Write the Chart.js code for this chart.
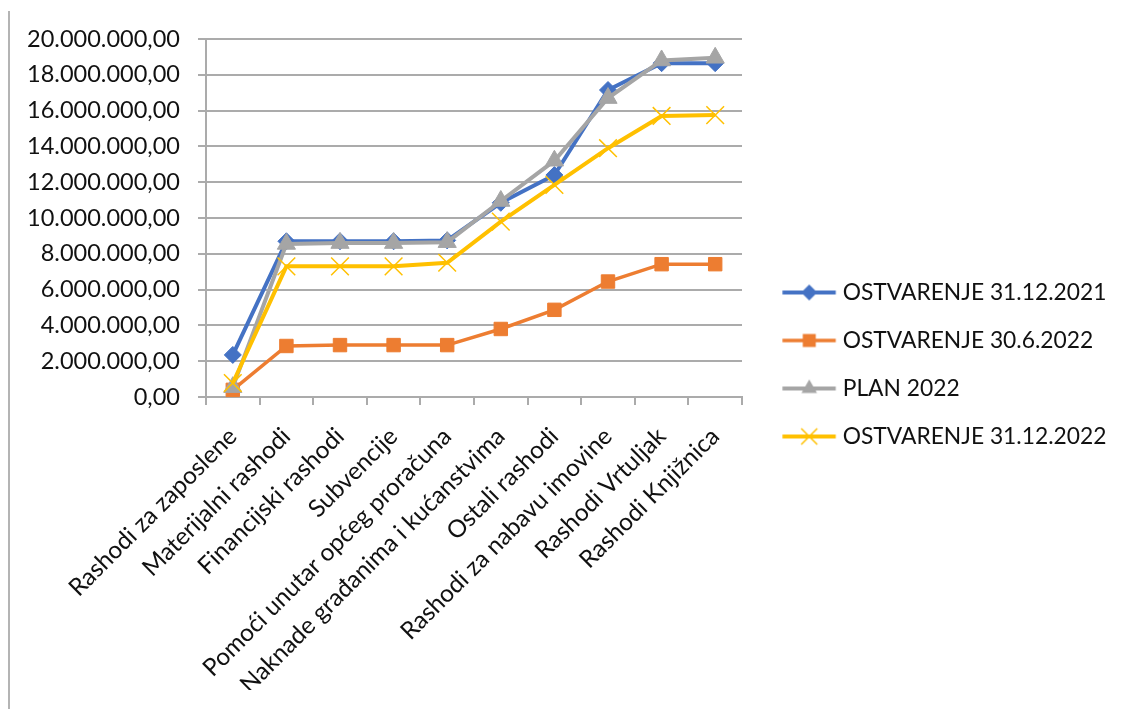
<!DOCTYPE html>
<html>
<head>
<meta charset="utf-8">
<script src="https://cdn.jsdelivr.net/npm/chart.js@4.4.1/dist/chart.umd.min.js"></script>
<style>
html,body{margin:0;padding:0;background:#fff;}
#wrap{position:relative;width:1124px;height:709px;}
canvas{display:block;}
</style>
</head>
<body>
<div id="wrap"><canvas id="c" width="1124" height="709"></canvas></div>
<script>
const categories = [
  'Rashodi za zaposlene',
  'Materijalni rashodi',
  'Financijski rashodi',
  'Subvencije',
  'Pomoći unutar općeg proračuna',
  'Naknade građanima i kućanstvima',
  'Ostali rashodi',
  'Rashodi za nabavu imovine',
  'Rashodi Vrtuljak',
  'Rashodi Knjižnica'
];
const seriesNames = ['OSTVARENJE 31.12.2021', 'OSTVARENJE 30.6.2022', 'PLAN 2022', 'OSTVARENJE 31.12.2022'];
const ostvarenje2021 = [2350000, 8700000, 8700000, 8700000, 8750000, 10850000, 12400000, 17150000, 18650000, 18650000];
const ostvarenje30062022 = [400000, 2850000, 2900000, 2900000, 2900000, 3800000, 4870000, 6450000, 7420000, 7420000];
const plan2022 = [550000, 8550000, 8600000, 8600000, 8650000, 10950000, 13200000, 16700000, 18800000, 18950000];
const ostvarenje2022 = [780000, 7300000, 7300000, 7300000, 7500000, 9800000, 11850000, 13900000, 15700000, 15750000];
const yTickLabels = ['0,00', '2.000.000,00', '4.000.000,00', '6.000.000,00', '8.000.000,00', '10.000.000,00',
  '12.000.000,00', '14.000.000,00', '16.000.000,00', '18.000.000,00', '20.000.000,00'];

const FAM = 'Lato';
const GRID = '#ababab';
const TEXT = '#111111';
const colors = ['#4472C4', '#ED7D31', '#A5A5A5', '#FFC000'];

function measure(text, size) {
  const c = document.createElement('canvas').getContext('2d');
  c.font = size + 'px ' + FAM;
  return c.measureText(text).width;
}

function makeLegendImage(idx, w, h, lineL, lineR, markX) {
  const cv = document.createElement('canvas');
  cv.width = Math.ceil(w); cv.height = h;
  const ctx = cv.getContext('2d');
  const my = h / 2;
  const col = colors[idx];
  ctx.strokeStyle = col; ctx.fillStyle = col;
  ctx.lineWidth = idx === 1 ? 3.5 : 4;
  ctx.beginPath(); ctx.moveTo(lineL, my); ctx.lineTo(lineR, my); ctx.stroke();
  ctx.lineWidth = 1;
  ctx.beginPath();
  if (idx === 0) {
    const r = 8;
    ctx.moveTo(markX - r, my); ctx.lineTo(markX, my - r); ctx.lineTo(markX + r, my); ctx.lineTo(markX, my + r);
    ctx.closePath(); ctx.fill();
  } else if (idx === 1) {
    ctx.rect(markX - 6.5, my - 6.5, 13, 13); ctx.fill();
  } else if (idx === 2) {
    const r = 9;
    ctx.moveTo(markX, my - r); ctx.lineTo(markX + 0.866 * r, my + 0.5 * r); ctx.lineTo(markX - 0.866 * r, my + 0.5 * r);
    ctx.closePath(); ctx.fill();
  } else {
    const d = 8;
    ctx.lineWidth = 1.5;
    ctx.moveTo(markX - d, my - d); ctx.lineTo(markX + d, my + d);
    ctx.moveTo(markX - d, my + d); ctx.lineTo(markX + d, my - d);
    ctx.stroke();
  }
  return cv;
}

const frameLine = {
  id: 'frameLine',
  beforeDraw(chart) {
    const ctx = chart.ctx;
    ctx.save();
    ctx.strokeStyle = '#b4b4b4';
    ctx.lineWidth = 2;
    ctx.beginPath(); ctx.moveTo(9, 11); ctx.lineTo(9, 709); ctx.stroke();
    ctx.restore();
  }
};

function build() {
  const yF = 100 * 153 / measure(yTickLabels[10], 100);
  const xF = 100 * 226 / measure(categories[0], 100);
  const lF = 100 * 264 / measure(seriesNames[0], 100);

  const PLOT = {left: 206, right: 742, top: 39, bottom: 397};
  const spacing = 48, row1 = 292.5, textX = 842.7, lineL = 782.7, lineR = 836, markX = 809.5;
  const P = spacing - lF;
  const padTop = PLOT.top;
  const legBottom = 2 * (row1 - lF / 2) - padTop - P + 4 * spacing;
  const padBottom = 709 - legBottom;
  const xAxisHeight = legBottom - PLOT.bottom;

  const boxW = textX - (PLOT.right + P) - lF / 2;
  const boxCenter = PLOT.right + P + boxW / 2;
  const half = Math.max(lineR - boxCenter, boxCenter - lineL) + 2;
  const imgLeft = boxCenter - half;
  const legendImgs = [0, 1, 2, 3].map(i => makeLegendImage(i, 2 * half, 28, lineL - imgLeft, lineR - imgLeft, markX - imgLeft));
  const textW = Math.max(...seriesNames.map(s => measure(s, lF)));
  const legendWidth = P + boxW + lF / 2 + textW + 10;
  const padRight = 1124 - PLOT.right - legendWidth;

  const mk = (i, data, extra) => Object.assign({
    label: seriesNames[i], data: data,
    borderColor: colors[i], backgroundColor: colors[i],
    pointBackgroundColor: colors[i], pointBorderColor: colors[i],
    tension: 0, clip: false, pointBorderWidth: 1
  }, extra);

  new Chart(document.getElementById('c'), {
    type: 'line',
    data: {
      labels: categories,
      datasets: [
        mk(0, ostvarenje2021, {borderWidth: 4, pointStyle: 'rectRot', pointRadius: 8.5, pointHoverRadius: 8.5, order: 4}),
        mk(1, ostvarenje30062022, {borderWidth: 3.5, pointStyle: 'rect', pointRadius: 9.5, pointHoverRadius: 9.5, order: 3}),
        mk(2, plan2022, {borderWidth: 4, pointStyle: 'triangle', pointRadius: 10.5, pointHoverRadius: 10.5, order: 2}),
        mk(3, ostvarenje2022, {borderWidth: 4, pointStyle: 'crossRot', pointRadius: 12.5, pointHoverRadius: 12.5, pointBorderWidth: 1.5, order: 1})
      ]
    },
    options: {
      responsive: false,
      animation: false,
      devicePixelRatio: 1,
      events: [],
      layout: {padding: {top: padTop, bottom: padBottom, left: 0, right: padRight}},
      plugins: {
        tooltip: {enabled: false},
        legend: {
          position: 'right',
          align: 'center',
          maxWidth: 600,
          labels: {
            usePointStyle: true,
            pointStyleWidth: boxW,
            padding: P,
            color: TEXT,
            font: {family: FAM, size: lF},
            sort: (a, b) => a.datasetIndex - b.datasetIndex,
            generateLabels(chart) {
              const items = Chart.defaults.plugins.legend.labels.generateLabels(chart);
              items.forEach(it => { it.pointStyle = legendImgs[it.datasetIndex]; it.rotation = 0; });
              return items;
            }
          }
        }
      },
      scales: {
        x: {
          type: 'category',
          offset: true,
          grid: {display: true, offset: true, drawOnChartArea: false, drawTicks: true, tickLength: 8, color: GRID, lineWidth: 2},
          border: {display: true, color: GRID, width: 2},
          ticks: {autoSkip: false, minRotation: 45, maxRotation: 45, padding: 17, color: TEXT, font: {family: FAM, size: xF}},
          afterFit(s) { s.height = xAxisHeight; }
        },
        y: {
          min: 0, max: 20000000,
          grid: {color: GRID, lineWidth: 2, drawTicks: true, tickLength: 8},
          border: {display: true, color: GRID, width: 2},
          ticks: {stepSize: 2000000, padding: 18, color: TEXT, font: {family: FAM, size: yF},
            callback: (v) => yTickLabels[Math.round(v / 2000000)]},
          afterFit(s) { s.width = PLOT.left; }
        }
      }
    },
    plugins: [frameLine]
  });
}

if (document.fonts && document.fonts.load) {
  Promise.all([document.fonts.load('20px ' + FAM)]).then(build, build);
} else {
  build();
}
</script>
</body>
</html>
